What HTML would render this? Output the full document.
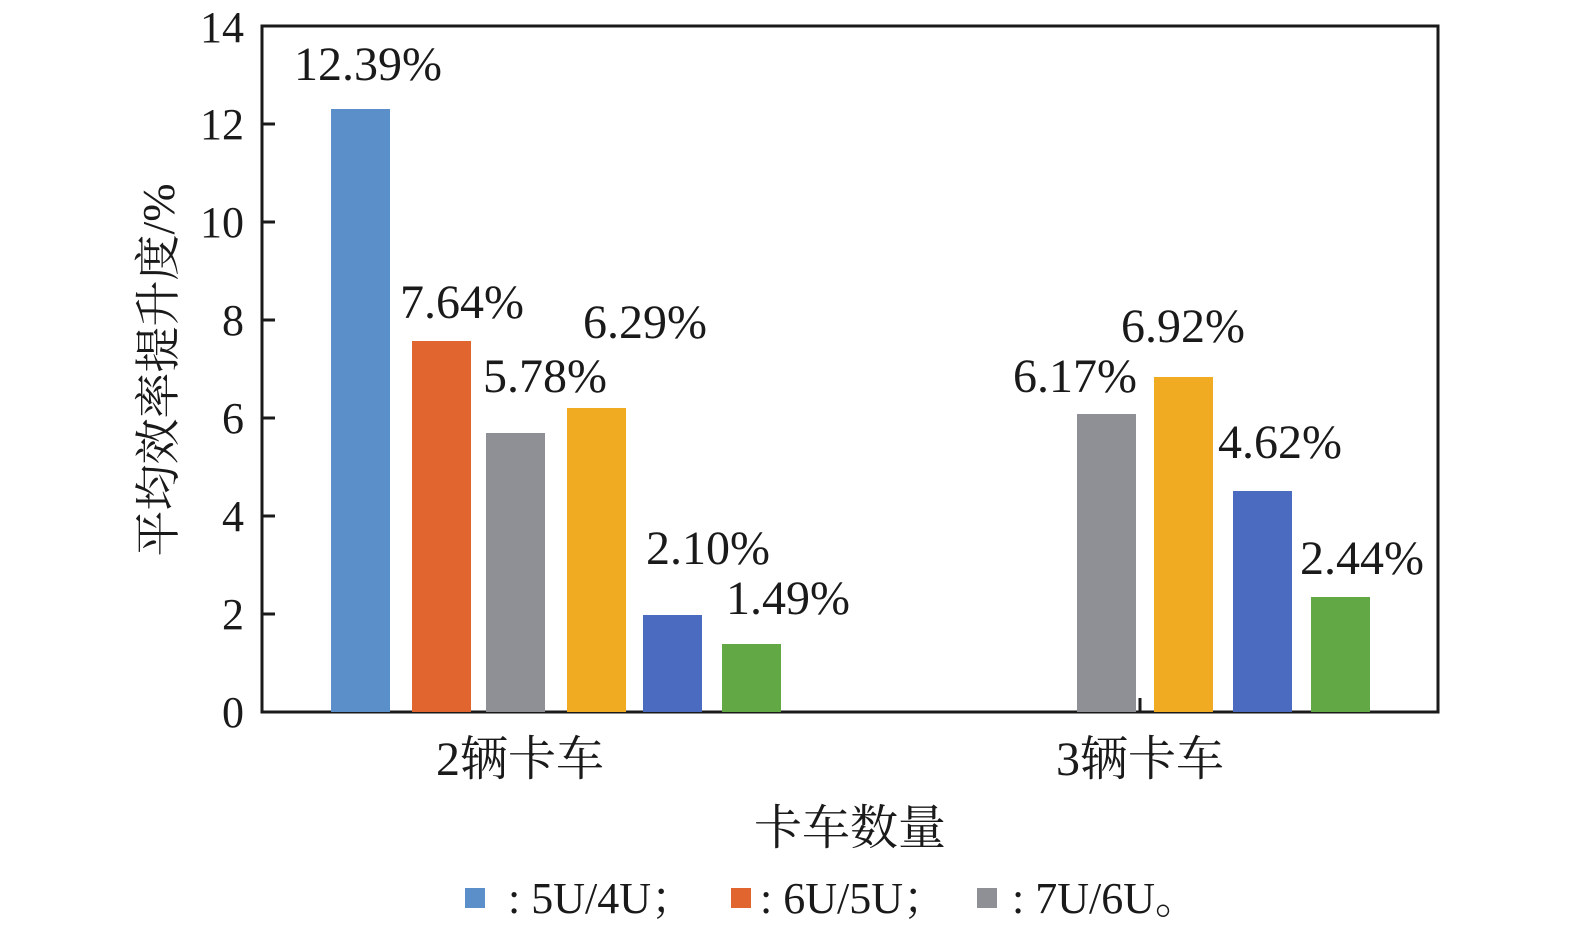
<!DOCTYPE html>
<html><head><meta charset="utf-8"><style>
body{margin:0;background:#fff}
svg text{font-family:"Liberation Serif","Noto Serif CJK SC",serif;fill:#1a1a1a}
</style></head><body>
<svg width="1575" height="932" xmlns="http://www.w3.org/2000/svg">
<rect x="262" y="26" width="1176" height="686" fill="none" stroke="#1a1a1a" stroke-width="3"/>
<g stroke="#1a1a1a" stroke-width="3">
<line x1="262" y1="614" x2="275" y2="614"/><line x1="262" y1="516" x2="275" y2="516"/>
<line x1="262" y1="418" x2="275" y2="418"/><line x1="262" y1="320" x2="275" y2="320"/>
<line x1="262" y1="222" x2="275" y2="222"/><line x1="262" y1="124" x2="275" y2="124"/>
<line x1="1140" y1="698" x2="1140" y2="712"/>
</g>
<g font-size="44" text-anchor="end">
<text x="244" y="727">0</text><text x="244" y="629">2</text><text x="244" y="531">4</text>
<text x="244" y="433">6</text><text x="244" y="335">8</text><text x="244" y="237">10</text>
<text x="244" y="139">12</text><text x="244" y="42">14</text>
</g>
<rect x="331" y="109" width="59" height="603" fill="#5b8fc9"/>
<rect x="412" y="341" width="59" height="371" fill="#e0652f"/>
<rect x="486" y="433" width="59" height="279" fill="#8f9095"/>
<rect x="567" y="408" width="59" height="304" fill="#f0ab22"/>
<rect x="643" y="615" width="59" height="97" fill="#4a6bbf"/>
<rect x="722" y="644" width="59" height="68" fill="#62a845"/>
<rect x="1077" y="414" width="59" height="298" fill="#8f9095"/>
<rect x="1154" y="377" width="59" height="335" fill="#f0ab22"/>
<rect x="1233" y="491" width="59" height="221" fill="#4a6bbf"/>
<rect x="1311" y="597" width="59" height="115" fill="#62a845"/>
<g font-size="48" text-anchor="middle">
<text x="368" y="80">12.39%</text>
<text x="462" y="318">7.64%</text>
<text x="545" y="392">5.78%</text>
<text x="645" y="338">6.29%</text>
<text x="708" y="564">2.10%</text>
<text x="788" y="614">1.49%</text>
<text x="1075" y="392">6.17%</text>
<text x="1183" y="342">6.92%</text>
<text x="1280" y="458">4.62%</text>
<text x="1362" y="574">2.44%</text>
</g>
<g font-size="48" text-anchor="middle">
<text x="520" y="775">2辆卡车</text>
<text x="1140" y="775">3辆卡车</text>
<text x="850" y="844">卡车数量</text>
</g>
<text font-size="46" text-anchor="middle" transform="translate(174,370) rotate(-90)">平均效率提升度/%</text>
<rect x="465" y="888" width="20" height="20" fill="#5b8fc9"/>
<rect x="731" y="888" width="20" height="20" fill="#e0652f"/>
<rect x="977" y="888" width="20" height="20" fill="#8f9095"/>
<g font-size="44">
<text x="508" y="913">: 5U/4U；</text>
<text x="760" y="913">: 6U/5U；</text>
<text x="1012" y="913">: 7U/6U。</text>
</g>
</svg>
</body></html>
